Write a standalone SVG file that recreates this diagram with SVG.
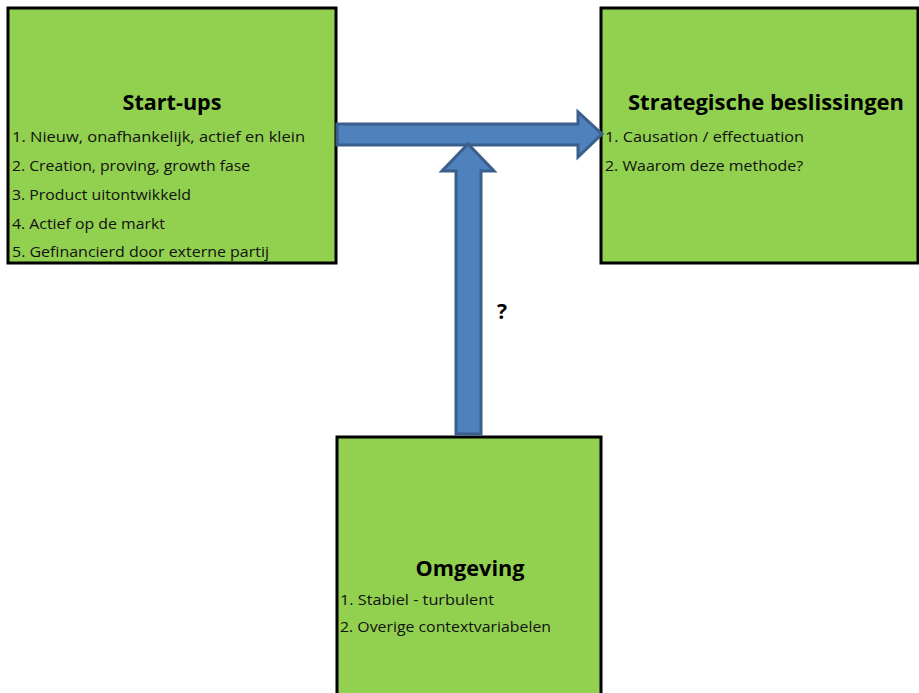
<svg xmlns="http://www.w3.org/2000/svg" width="919" height="693" viewBox="0 0 919 693">
<style>
.box{fill:#92d050;stroke:#000;stroke-width:3}
.arrow{fill:#4f81bd;stroke:#3a5f8c;stroke-width:3;stroke-linejoin:miter}
.title{font-family:"Open Sans","Liberation Sans",sans-serif;font-weight:bold;font-size:21px;fill:#000}
.item{font-family:"Open Sans","Liberation Sans",sans-serif;font-size:15px;fill:#111}
</style>
<rect width="919" height="693" fill="#fff"/>
<g id="startups">
<rect class="box" x="8" y="8" width="328" height="255"/>
<text class="title" x="172" y="110" text-anchor="middle" textLength="99" lengthAdjust="spacingAndGlyphs">Start-ups</text>
<text class="item" x="12" y="142" textLength="293" lengthAdjust="spacingAndGlyphs">1. Nieuw, onafhankelijk, actief en klein</text>
<text class="item" x="12" y="171" textLength="238" lengthAdjust="spacingAndGlyphs">2. Creation, proving, growth fase</text>
<text class="item" x="12" y="200" textLength="179" lengthAdjust="spacingAndGlyphs">3. Product uitontwikkeld</text>
<text class="item" x="12" y="229" textLength="153" lengthAdjust="spacingAndGlyphs">4. Actief op de markt</text>
<text class="item" x="12" y="257" textLength="257" lengthAdjust="spacingAndGlyphs">5. Gefinancierd door externe partij</text>
</g>
<g id="strategische">
<rect class="box" x="601" y="8" width="317" height="255"/>
<text class="title" x="766" y="110" text-anchor="middle" textLength="276" lengthAdjust="spacingAndGlyphs">Strategische beslissingen</text>
<text class="item" x="605" y="142" textLength="199" lengthAdjust="spacingAndGlyphs">1. Causation / effectuation</text>
<text class="item" x="605" y="171" textLength="198" lengthAdjust="spacingAndGlyphs">2. Waarom deze methode?</text>
</g>
<g id="omgeving">
<rect class="box" x="337" y="437" width="264" height="260"/>
<text class="title" x="470" y="576" text-anchor="middle" textLength="109" lengthAdjust="spacingAndGlyphs">Omgeving</text>
<text class="item" x="340" y="605" textLength="154" lengthAdjust="spacingAndGlyphs">1. Stabiel - turbulent</text>
<text class="item" x="340" y="632" textLength="211" lengthAdjust="spacingAndGlyphs">2. Overige contextvariabelen</text>
</g>
<g id="connectors">
<path class="arrow" d="M337,124 L578,124 L578,112 L602,134 L578,157 L578,145 L337,145 Z"/>
<path class="arrow" d="M456,434 L456,171 L442,171 L468,144 L494,171 L481,171 L481,434 Z"/>
<text class="title" x="502" y="319" text-anchor="middle" style="font-size:21px">?</text>
</g>
</svg>
